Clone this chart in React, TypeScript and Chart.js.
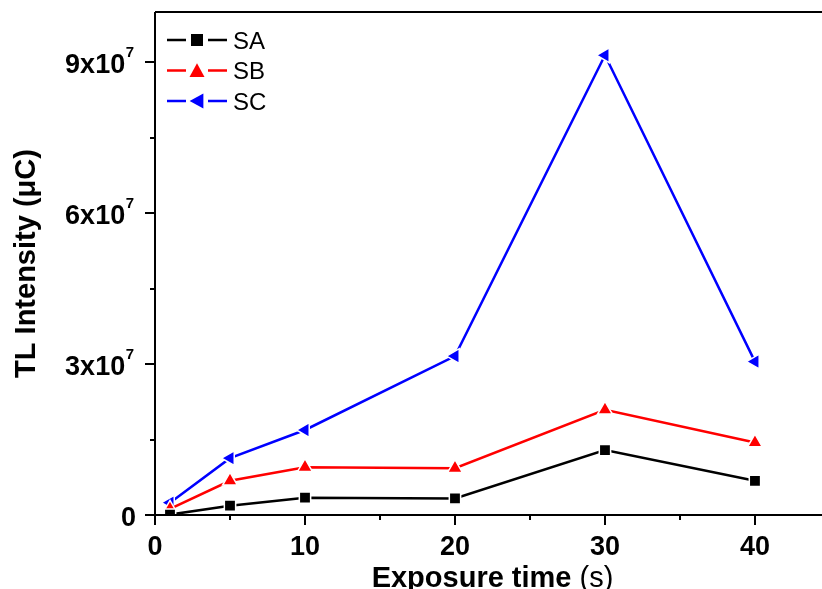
import React, { useEffect, useRef } from "react";
import { Chart, registerables } from "chart.js";

Chart.register(...registerables);

const xValues = [1, 5, 10, 20, 30, 40];
const saValues = [0.08e6, 1.85e6, 3.44e6, 3.3e6, 1.29e7, 6.8e6];
const sbValues = [1.2e6, 6.8e6, 9.5e6, 9.3e6, 2.09e7, 1.44e7];
const scValues = [2.45e6, 1.13e7, 1.69e7, 3.16e7, 9.14e7, 3.05e7];
const seriesNames = ["SA", "SB", "SC"];
const seriesColors = ["#000000", "#ff0000", "#0000ff"];
const xMajorTicks = [0, 10, 20, 30, 40];
const xMinorTicks = [5, 15, 25, 35];
const yMajorTicks = [0, 3e7, 6e7, 9e7];
const yMinorTicks = [1.5e7, 4.5e7, 7.5e7];
const xTitleBold = "Exposure time ";
const xTitleUnit = "(s)";
const yTitle = "TL Intensity (\u03bcC)";

const FONT = '"Liberation Sans", Arial, sans-serif';

function drawMarker(ctx: CanvasRenderingContext2D, kind: number, x: number, y: number, s: number, color: string) {
  ctx.fillStyle = color;
  ctx.beginPath();
  if (kind === 0) {
    ctx.rect(x - s / 2, y - s / 2, s, s);
  } else if (kind === 1) {
    const h = s * 0.85;
    ctx.moveTo(x, y - h / 2 - 1);
    ctx.lineTo(x + s / 2, y + h / 2);
    ctx.lineTo(x - s / 2, y + h / 2);
    ctx.closePath();
  } else {
    const h = s * 0.85;
    ctx.moveTo(x - h / 2 - 1, y);
    ctx.lineTo(x + h / 2, y - s / 2);
    ctx.lineTo(x + h / 2, y + s / 2);
    ctx.closePath();
  }
  ctx.fill();
}

const decorPlugin = {
  id: "decor",
  afterDraw(chart: any) {
    const { ctx, chartArea } = chart;
    const { left, top, right, bottom } = chartArea;
    const xs = chart.scales.x;
    const ys = chart.scales.y;
    ctx.save();
    ctx.strokeStyle = "#000";
    ctx.lineWidth = 2;
    ctx.beginPath();
    ctx.moveTo(left, top);
    ctx.lineTo(right, top);
    ctx.moveTo(left, top);
    ctx.lineTo(left, bottom);
    ctx.moveTo(left - 1, bottom);
    ctx.lineTo(right, bottom);
    yMajorTicks.forEach((v) => {
      const p = Math.round(ys.getPixelForValue(v));
      ctx.moveTo(left - 10, p);
      ctx.lineTo(left, p);
    });
    yMinorTicks.forEach((v) => {
      const p = Math.round(ys.getPixelForValue(v));
      ctx.moveTo(left - 5, p);
      ctx.lineTo(left, p);
    });
    xMajorTicks.forEach((v) => {
      const p = Math.round(xs.getPixelForValue(v));
      ctx.moveTo(p, bottom);
      ctx.lineTo(p, bottom + 10);
    });
    xMinorTicks.forEach((v) => {
      const p = Math.round(xs.getPixelForValue(v));
      ctx.moveTo(p, bottom);
      ctx.lineTo(p, bottom + 5);
    });
    ctx.stroke();

    ctx.fillStyle = "#000";
    ctx.textBaseline = "alphabetic";
    const labelRight = left - 21;
    yMajorTicks.forEach((v) => {
      const p = ys.getPixelForValue(v);
      if (v === 0) {
        ctx.font = `bold 27px ${FONT}`;
        ctx.textAlign = "right";
        ctx.fillText("0", labelRight + 2, p + 10.5);
        return;
      }
      const mant = String(Math.round(v / 1e7));
      ctx.font = `bold 15px ${FONT}`;
      const supW = ctx.measureText("7").width;
      ctx.textAlign = "left";
      ctx.fillText("7", labelRight - supW, p - 5);
      ctx.font = `bold 27px ${FONT}`;
      ctx.textAlign = "right";
      ctx.fillText(mant + "x10", labelRight - supW - 0.5, p + 10.5);
    });

    ctx.font = `bold 27px ${FONT}`;
    ctx.textAlign = "center";
    xMajorTicks.forEach((v) => {
      const p = xs.getPixelForValue(v);
      ctx.fillText(String(v), p, bottom + 40);
    });

    ctx.font = `bold 29px ${FONT}`;
    const w1 = ctx.measureText(xTitleBold).width;
    ctx.font = `29px ${FONT}`;
    const w2 = ctx.measureText(xTitleUnit).width;
    const cx = (left + right) / 2 + 4;
    const start = cx - (w1 + w2) / 2;
    ctx.textAlign = "left";
    ctx.font = `bold 29px ${FONT}`;
    ctx.fillText(xTitleBold, start, 586.5);
    ctx.font = `29px ${FONT}`;
    ctx.fillText(xTitleUnit, start + w1, 586.5);

    ctx.save();
    ctx.translate(35, (top + bottom) / 2);
    ctx.rotate(-Math.PI / 2);
    ctx.font = `bold 29px ${FONT}`;
    ctx.textAlign = "center";
    ctx.fillText(yTitle, 0, 0);
    ctx.restore();

    const rows = [40, 70.5, 101];
    seriesNames.forEach((name, i) => {
      const y = rows[i];
      const color = seriesColors[i];
      ctx.strokeStyle = color;
      ctx.lineWidth = 2.5;
      ctx.beginPath();
      ctx.moveTo(167, y);
      ctx.lineTo(186, y);
      ctx.moveTo(208, y);
      ctx.lineTo(227, y);
      ctx.stroke();
      drawMarker(ctx, i, 197, y, i === 0 ? 12 : 15, color);
      ctx.fillStyle = "#000";
      ctx.font = `24px ${FONT}`;
      ctx.textAlign = "left";
      ctx.fillText(name, 233, y + 8.5);
    });
    ctx.restore();
  },
};

export default function App() {
  const ref = useRef<HTMLCanvasElement | null>(null);
  useEffect(() => {
    if (!ref.current) return;
    const mk = (vals: number[]) => xValues.map((x, i) => ({ x, y: vals[i] }));
    const styles = [
      { pointStyle: "rect", pointRadius: 8, rotation: 0 },
      { pointStyle: "triangle", pointRadius: 8.5, rotation: 0 },
      { pointStyle: "triangle", pointRadius: 8.5, rotation: -90 },
    ];
    const allVals = [saValues, sbValues, scValues];
    const chart = new Chart(ref.current, {
      type: "line",
      data: {
        datasets: seriesNames.map((name, i) => ({
          label: name,
          data: mk(allVals[i]),
          borderColor: seriesColors[i],
          backgroundColor: seriesColors[i],
          pointBackgroundColor: seriesColors[i],
          pointBorderColor: "#ffffff",
          pointBorderWidth: 1.5,
          pointStyle: styles[i].pointStyle as any,
          pointRadius: styles[i].pointRadius,
          pointRotation: styles[i].rotation,
          borderWidth: 2.5,
          tension: 0,
          fill: false,
        })),
      },
      options: {
        responsive: false,
        animation: false,
        layout: { autoPadding: false, padding: { top: 12, left: 0, right: 0, bottom: 0 } },
        plugins: { legend: { display: false }, tooltip: { enabled: false } },
        scales: {
          x: {
            type: "linear",
            min: 0,
            max: 44.47,
            grid: { display: false },
            border: { display: false },
            ticks: { display: false },
            afterFit: (s: any) => {
              s.height = 74;
            },
          },
          y: {
            type: "linear",
            min: 0,
            max: 1e8,
            grid: { display: false },
            border: { display: false },
            ticks: { display: false },
            afterFit: (s: any) => {
              s.width = 155;
            },
          },
        },
      },
      plugins: [decorPlugin],
    });
    return () => chart.destroy();
  }, []);
  return (
    <div style={{ position: "absolute", left: 0, top: 0, width: 822, height: 589, background: "#fff" }}>
      <canvas ref={ref} width={822} height={589} style={{ display: "block" }} />
    </div>
  );
}
